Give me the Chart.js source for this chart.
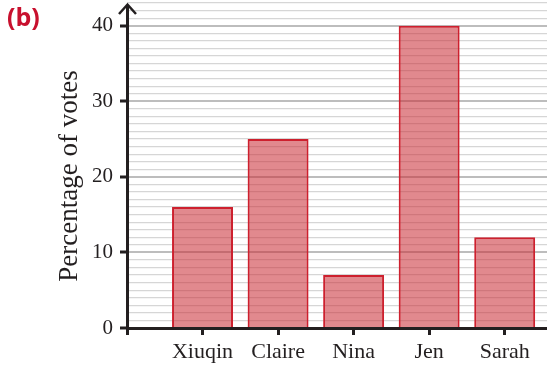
<!DOCTYPE html>
<html>
<head>
<meta charset="utf-8">
<script src="https://cdn.jsdelivr.net/npm/chart.js@4"></script>
<style>
  html, body { margin: 0; padding: 0; background: #fff; }
  #wrap { position: relative; width: 547px; height: 365px; }
  #panel {
    position: absolute; left: 7px; top: -1px;
    font: bold 25px "Open Sans", sans-serif; color: #c8102e;
  }
</style>
</head>
<body>
<div id="wrap">
  <canvas id="c" width="547" height="365"></canvas>
  <div id="panel">(b)</div>
</div>
<script>
// Vote shares per candidate
const categories = ['Xiuqin', 'Claire', 'Nina', 'Jen', 'Sarah'];
const votes = [16, 25, 7, 40, 12];
const yTickLabels = ['0', '10', '20', '30', '40'];
const yTitle = 'Percentage of votes';

const ink = '#231f20';
const serif = '"Liberation Serif", "Times New Roman", serif';

// vertical axis line with an arrowhead at the top, plus the rotated axis title
const arrowAxis = {
  id: 'arrowAxis',
  afterDraw(chart) {
    const { ctx, chartArea } = chart;
    const x = Math.round(chartArea.left) + 0.5;
    ctx.save();
    ctx.strokeStyle = ink;
    ctx.lineWidth = 3;
    ctx.beginPath();
    ctx.moveTo(x, 5);
    ctx.lineTo(x, chartArea.bottom + 1);
    ctx.stroke();
    ctx.lineWidth = 2.5;
    ctx.lineJoin = 'miter';
    ctx.beginPath();
    ctx.moveTo(x - 8.5, 14);
    ctx.lineTo(x, 4.5);
    ctx.lineTo(x + 8.5, 14);
    ctx.stroke();

    ctx.translate(70, 176);
    ctx.rotate(-Math.PI / 2);
    ctx.fillStyle = ink;
    ctx.font = '27px ' + serif;
    ctx.textAlign = 'center';
    ctx.textBaseline = 'middle';
    ctx.fillText(yTitle, 0, 0);
    ctx.restore();
  }
};

new Chart(document.getElementById('c'), {
  type: 'bar',
  data: {
    datasets: [{
      data: votes.map((v, i) => ({ x: i, y: v })),
      backgroundColor: 'rgba(200, 40, 50, 0.55)',
      borderColor: 'rgb(205, 32, 46)',
      borderWidth: 2,
      categoryPercentage: 1,
      barPercentage: 0.807
    }]
  },
  options: {
    responsive: false,
    animation: false,
    devicePixelRatio: 1,
    layout: { padding: 0 },
    plugins: { legend: { display: false }, tooltip: { enabled: false } },
    scales: {
      x: {
        type: 'linear',
        offset: false,
        min: -1,
        max: 4.56,
        grid: {
          offset: false,
          drawOnChartArea: false,
          drawTicks: true,
          tickLength: 7,
          tickColor: ink,
          tickWidth: 3
        },
        border: { display: true, color: ink, width: 3, z: 1 },
        ticks: {
          stepSize: 1,
          includeBounds: false,
          autoSkip: false,
          maxRotation: 0,
          padding: 4,
          color: ink,
          font: { family: serif, size: 22 },
          callback: v => (v >= 0 && v < categories.length && Number.isInteger(v)) ? categories[v] : ''
        },
        afterFit(scale) {
          scale.height = 37;
          scale.paddingLeft = 0;
          scale.paddingRight = 0;
        }
      },
      y: {
        min: 0,
        max: 43.4,
        grid: {
          drawTicks: true,
          tickLength: 7,
          color: c => (c.tick && c.tick.value % 10 === 0) ? 'rgba(0,0,0,0.26)' : 'rgba(0,0,0,0.16)',
          lineWidth: c => (c.tick && c.tick.value % 10 === 0) ? 2 : 1.2,
          tickColor: c => (c.tick && c.tick.value % 10 === 0) ? ink : 'rgba(0,0,0,0)',
          tickWidth: 3
        },
        border: { display: false },
        ticks: {
          stepSize: 1,
          includeBounds: false,
          autoSkip: false,
          padding: 7,
          color: ink,
          font: { family: serif, size: 21 },
          callback: v => (v % 10 === 0) ? yTickLabels[v / 10] : ''
        },
        title: { display: false },
        afterFit(scale) {
          scale.width = 127;
          scale.paddingTop = 0;
          scale.paddingBottom = 0;
        }
      }
    }
  },
  plugins: [arrowAxis]
});
</script>
</body>
</html>
